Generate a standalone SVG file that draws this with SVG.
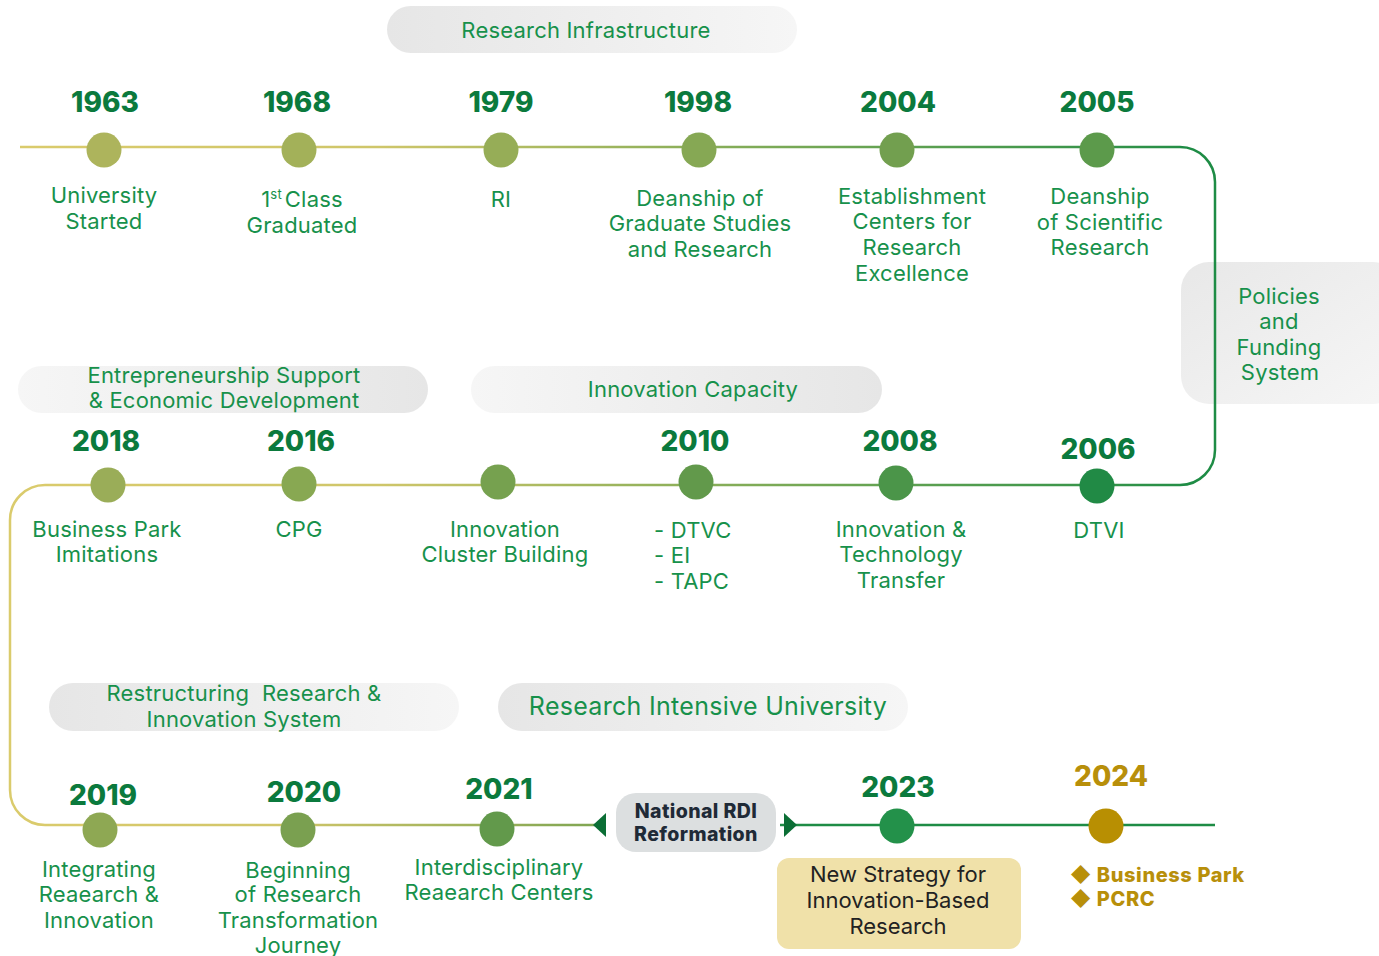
<svg xmlns="http://www.w3.org/2000/svg" width="1379" height="956" viewBox="0 0 1379 956">
<defs>
<style>
.yr{font-family:Inter,"Liberation Sans",sans-serif;font-weight:800;font-size:28px;fill:#0b7a3d;text-anchor:middle}
.lb{font-family:Inter,"Liberation Sans",sans-serif;font-size:22px;letter-spacing:0.2px;fill:#17914b;text-anchor:middle}
.st{text-anchor:start}
.ph{font-family:Inter,"Liberation Sans",sans-serif;font-size:22px;letter-spacing:0.2px;fill:#17914b;text-anchor:middle;white-space:pre}
.ln{fill:none;stroke-width:2.5}
.dk{font-family:Inter,"Liberation Sans",sans-serif;font-size:22px;fill:#222222;text-anchor:middle}
.rd{font-family:Inter,"Liberation Sans",sans-serif;font-weight:800;font-size:19.5px;letter-spacing:0.4px;fill:#1f2a37;text-anchor:middle}
.gd{font-family:Inter,"Liberation Sans",sans-serif;font-weight:800;font-size:20px;letter-spacing:0.6px;fill:#b88f0a}
</style>
<linearGradient id="g1" gradientUnits="userSpaceOnUse" x1="20" y1="0" x2="1215" y2="0">
<stop offset="0" stop-color="#dacb6c"/><stop offset="0.3" stop-color="#cfc66a"/><stop offset="0.55" stop-color="#8fb05a"/><stop offset="1" stop-color="#1e8c45"/>
</linearGradient>
<linearGradient id="g3" gradientUnits="userSpaceOnUse" x1="10" y1="0" x2="600" y2="0">
<stop offset="0" stop-color="#dacb6c"/><stop offset="0.45" stop-color="#d2c66a"/><stop offset="1" stop-color="#7ea552"/>
</linearGradient>
<linearGradient id="pL" x1="0" y1="0" x2="1" y2="0"><stop offset="0" stop-color="#e6e6e6"/><stop offset="1" stop-color="#f6f6f6"/></linearGradient>
<linearGradient id="pR" x1="0" y1="0" x2="1" y2="0"><stop offset="0" stop-color="#f6f6f6"/><stop offset="1" stop-color="#e6e6e6"/></linearGradient>
<linearGradient id="pP" x1="0" y1="0" x2="1" y2="1"><stop offset="0" stop-color="#e8e8e8"/><stop offset="1" stop-color="#f6f6f6"/></linearGradient>
</defs>
<rect width="1379" height="956" fill="#ffffff"/>

<g id="phases">
<g id="phase-research-infrastructure"><rect x="387" y="6" width="410" height="47" rx="23.5" fill="url(#pL)"/><text class="ph" x="586" y="38">Research Infrastructure</text></g>
<g id="phase-policies"><rect x="1181" y="262" width="220" height="142" rx="28" fill="url(#pP)"/><text class="ph" x="1279" y="304">Policies</text><text class="ph" x="1279" y="329">and</text><text class="ph" x="1279" y="355">Funding</text><text class="ph" x="1280" y="380">System</text></g>
<g id="phase-entrepreneurship"><rect x="18" y="366" width="410" height="47" rx="23.5" fill="url(#pR)"/><text class="ph" x="224" y="383">Entrepreneurship Support</text><text class="ph" x="224" y="408">&amp; Economic Development</text></g>
<g id="phase-innovation-capacity"><rect x="471" y="366" width="411" height="47" rx="23.5" fill="url(#pR)"/><text class="ph" x="693" y="397">Innovation Capacity</text></g>
<g id="phase-restructuring"><rect x="49" y="683" width="410" height="48" rx="24" fill="url(#pL)"/><text class="ph" x="244" y="701">Restructuring  Research &amp;</text><text class="ph" x="244" y="727">Innovation System</text></g>
<g id="phase-research-intensive"><rect x="498" y="683" width="410" height="48" rx="24" fill="url(#pL)"/><text class="ph" x="708" y="715" style="font-size:25px;letter-spacing:0.3px">Research Intensive University</text></g>
</g>

<g id="connectors">
<path class="ln" stroke="url(#g1)" d="M20 147 H1180"/>
<path class="ln" stroke="#1e8c45" d="M1180 147 A35 35 0 0 1 1215 182 V450 A35 35 0 0 1 1180 485"/>
<path class="ln" stroke="url(#g1)" d="M1180 485 H45"/>
<path class="ln" stroke="#dacb6c" d="M45 485 A35 35 0 0 0 10 520 V790 A35 35 0 0 0 45 825"/>
<path class="ln" stroke="url(#g3)" d="M45 825 H600"/>
<path class="ln" stroke="#1e8c45" d="M780 825 H1215"/>
<polygon points="593,825 606,813 606,837" fill="#0b6e35"/>
<polygon points="797,825 784,813 784,837" fill="#0b6e35"/>
</g>

<g id="n1963"><circle cx="104" cy="150" r="17.5" fill="#adb45c"/><text class="yr" x="105" y="112">1963</text><text class="lb" x="104" y="203">University</text><text class="lb" x="104" y="229">Started</text></g>
<g id="n1968"><circle cx="299" cy="150" r="17.5" fill="#a3b159"/><text class="yr" x="297" y="112">1968</text><text class="lb" x="302" y="207">1<tspan font-size="13" dy="-8">st</tspan><tspan dy="8" dx="3">Class</tspan></text><text class="lb" x="302" y="233">Graduated</text></g>
<g id="n1979"><circle cx="501" cy="150" r="17.5" fill="#96ad57"/><text class="yr" x="501" y="112">1979</text><text class="lb" x="501" y="207">RI</text></g>
<g id="n1998"><circle cx="699" cy="150" r="17.5" fill="#86a854"/><text class="yr" x="698" y="112">1998</text><text class="lb" x="700" y="206">Deanship of</text><text class="lb" x="700" y="231">Graduate Studies</text><text class="lb" x="700" y="257">and Research</text></g>
<g id="n2004"><circle cx="897" cy="150" r="17.5" fill="#729f4f"/><text class="yr" x="898" y="112">2004</text><text class="lb" x="912" y="204">Establishment</text><text class="lb" x="912" y="229">Centers for</text><text class="lb" x="912" y="255">Research</text><text class="lb" x="912" y="281">Excellence</text></g>
<g id="n2005"><circle cx="1097" cy="150" r="17.5" fill="#5c9a4b"/><text class="yr" x="1097" y="112">2005</text><text class="lb" x="1100" y="204">Deanship</text><text class="lb" x="1100" y="230">of Scientific</text><text class="lb" x="1100" y="255">Research</text></g>

<g id="n2006"><circle cx="1097" cy="486" r="17.5" fill="#218a45"/><text class="yr" x="1098" y="459">2006</text><text class="lb" x="1099" y="538">DTVI</text></g>
<g id="n2008"><circle cx="896" cy="483" r="17.5" fill="#4b9549"/><text class="yr" x="900" y="451">2008</text><text class="lb" x="901" y="537">Innovation &amp;</text><text class="lb" x="901" y="562">Technology</text><text class="lb" x="901" y="588">Transfer</text></g>
<g id="n2010"><circle cx="696" cy="482" r="17.5" fill="#62994b"/><text class="yr" x="695" y="451">2010</text><text class="lb st" x="654" y="538">- DTVC</text><text class="lb st" x="654" y="563">- EI</text><text class="lb st" x="654" y="589">- TAPC</text></g>
<g id="n-cluster"><circle cx="498" cy="482" r="17.5" fill="#76a14f"/><text class="lb" x="505" y="537">Innovation</text><text class="lb" x="505" y="562">Cluster Building</text></g>
<g id="n2016"><circle cx="299" cy="484" r="17.5" fill="#88a852"/><text class="yr" x="301" y="451">2016</text><text class="lb" x="299" y="537">CPG</text></g>
<g id="n2018"><circle cx="108" cy="485" r="17.5" fill="#9aad58"/><text class="yr" x="106" y="451">2018</text><text class="lb" x="107" y="537">Business Park</text><text class="lb" x="107" y="562">Imitations</text></g>

<g id="n2019"><circle cx="100" cy="830" r="17.5" fill="#8ea853"/><text class="yr" x="103" y="805">2019</text><text class="lb" x="99" y="877">Integrating</text><text class="lb" x="99" y="902">Reaearch &amp;</text><text class="lb" x="99" y="928">Innovation</text></g>
<g id="n2020"><circle cx="298" cy="830" r="17.5" fill="#7aa050"/><text class="yr" x="304" y="802">2020</text><text class="lb" x="298" y="878">Beginning</text><text class="lb" x="298" y="902">of Research</text><text class="lb" x="298" y="928">Transformation</text><text class="lb" x="298" y="953">Journey</text></g>
<g id="n2021"><circle cx="497" cy="829" r="17.5" fill="#62994b"/><text class="yr" x="499" y="799">2021</text><text class="lb" x="499" y="875">Interdisciplinary</text><text class="lb" x="499" y="900">Reaearch Centers</text></g>
<g id="n-rdi"><rect x="616" y="793" width="160" height="59" rx="20" fill="#dcdfe0"/><text class="rd" x="696" y="818">National RDI</text><text class="rd" x="696" y="841">Reformation</text></g>
<g id="n2023"><circle cx="897" cy="826" r="17.5" fill="#23914a"/><text class="yr" x="898" y="797">2023</text><rect x="777" y="858" width="244" height="91" rx="12" fill="#f0e1a9"/><text class="dk" x="898" y="882">New Strategy for</text><text class="dk" x="898" y="908">Innovation-Based</text><text class="dk" x="898" y="934">Research</text></g>
<g id="n2024"><circle cx="1106" cy="826" r="17.5" fill="#b88f02"/><text class="yr" x="1111" y="786" style="fill:#b88f0a">2024</text><text class="gd" x="1070" y="882">◆ Business Park</text><text class="gd" x="1070" y="906">◆ PCRC</text></g>
</svg>
